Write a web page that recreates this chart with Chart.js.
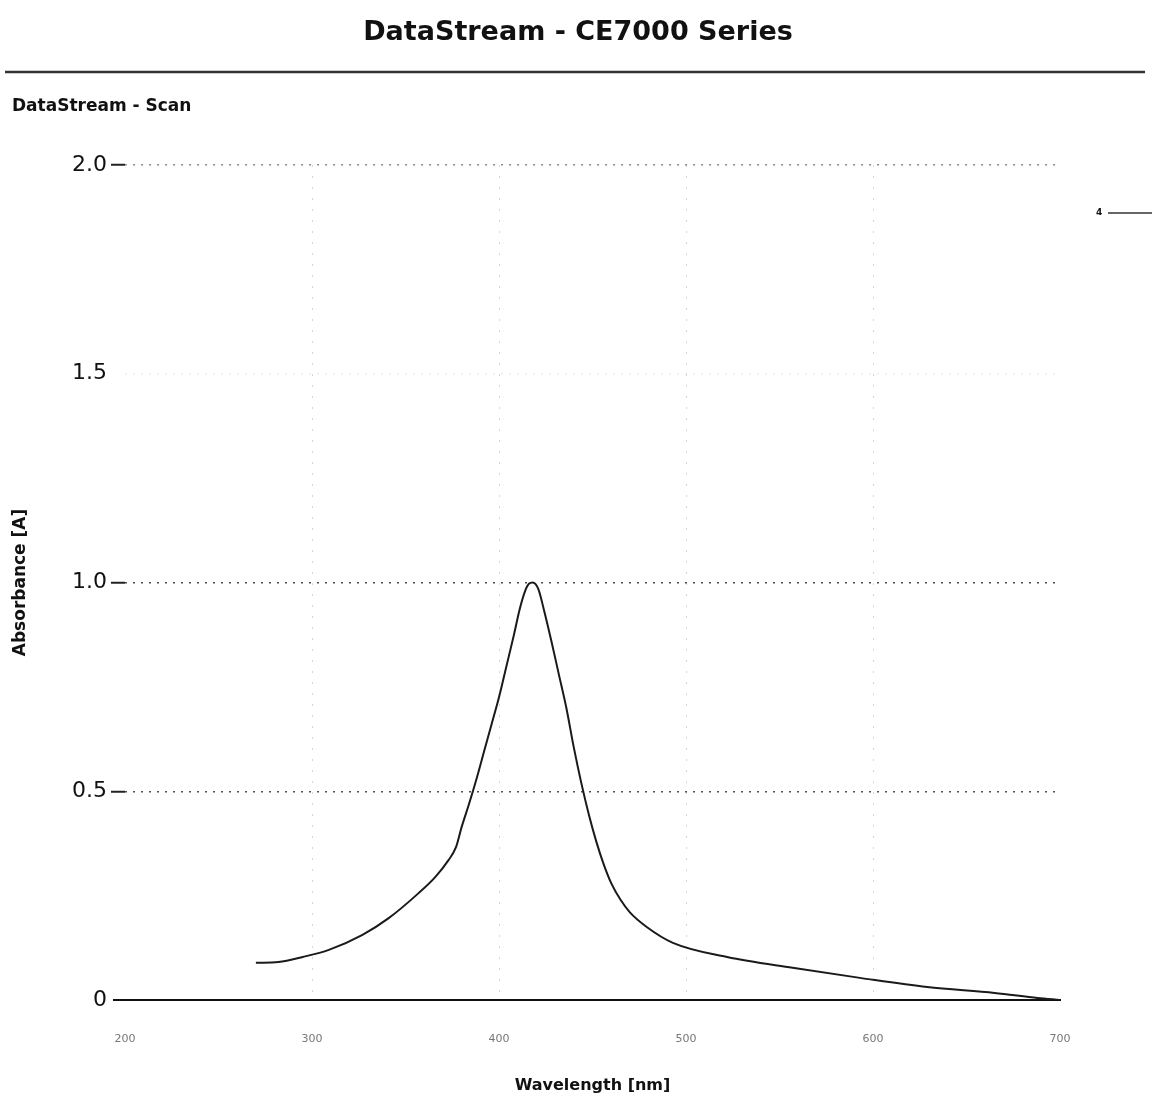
<!DOCTYPE html>
<html>
<head>
<meta charset="utf-8">
<script src="https://cdn.jsdelivr.net/npm/chart.js@4.4.1/dist/chart.umd.min.js"></script>
<style>
  html, body { margin: 0; padding: 0; background: #fff; }
  #wrap { width: 1152px; height: 1099px; position: relative; }
</style>
</head>
<body>
<div id="wrap"><canvas id="scanChart"></canvas></div>
<script>
// values
const wavelengths = [270, 282, 295, 309, 327, 341, 357, 366, 373, 377, 380, 384, 388, 392, 396, 400, 404, 408, 411, 414, 416, 418,
    421, 424, 428, 432, 436, 440, 444, 448, 452, 456, 460, 465, 470, 479, 493, 522, 557, 593, 629, 665, 688, 700];
const absorbance = [0.089, 0.091, 0.103, 0.120, 0.156, 0.196, 0.256, 0.295, 0.335, 0.366, 0.414, 0.470, 0.530, 0.595, 0.660, 0.725, 0.800, 0.875, 0.935, 0.980, 0.997, 1.000,
    0.985, 0.935, 0.860, 0.780, 0.700, 0.605, 0.520, 0.445, 0.380, 0.325, 0.280, 0.240, 0.210, 0.175, 0.137, 0.103, 0.077, 0.053, 0.031, 0.017, 0.005, 0.0];
const xTicks = [200, 300, 400, 500, 600, 700];
const yTicks = [0, 0.5, 1.0, 1.5, 2.0];

const FONT = "'DejaVu Sans', Verdana, sans-serif";

// header text, rule and the stray mark on the right edge
const pageDecor = {
    id: 'pageDecor',
    afterDraw(chart) {
        const c = chart.ctx;
        c.save();
        c.fillStyle = '#111';
        c.textBaseline = 'middle';
        c.textAlign = 'center';
        c.font = 'bold 27px ' + FONT;
        c.fillText('DataStream - CE7000 Series', 578, 33);

        c.strokeStyle = '#333';
        c.lineWidth = 2.5;
        c.beginPath();
        c.moveTo(5, 72);
        c.lineTo(1145, 72);
        c.stroke();

        c.textAlign = 'left';
        c.font = 'bold 17px ' + FONT;
        c.fillText('DataStream - Scan', 12, 107);

        c.font = 'bold 9px ' + FONT;
        c.fillText('4', 1096, 213);
        c.lineWidth = 1.5;
        c.beginPath();
        c.moveTo(1108, 213);
        c.lineTo(1152, 213);
        c.stroke();

        // zero line runs a little left of the plot
        c.strokeStyle = '#111';
        c.lineWidth = 2;
        c.beginPath();
        c.moveTo(113, chart.scales.y.getPixelForValue(0));
        c.lineTo(chart.chartArea.left, chart.scales.y.getPixelForValue(0));
        c.stroke();
        c.restore();
    }
};

const ctx = document.getElementById('scanChart').getContext('2d');

new Chart(ctx, {
    type: 'line',
    data: {
        datasets: [{
            label: 'Scan',
            data: wavelengths.map((w, i) => ({ x: w, y: absorbance[i] })),
            borderColor: '#1a1a1a',
            borderWidth: 2,
            pointRadius: 0,
            fill: false,
            cubicInterpolationMode: 'monotone'
        }]
    },
    options: {
        responsive: true,
        maintainAspectRatio: false,
        animation: false,
        layout: { padding: { top: 165, right: 92, left: 0, bottom: 0 } },
        plugins: {
            legend: { display: false },
            tooltip: { enabled: false }
        },
        scales: {
            x: {
                type: 'linear',
                min: 200,
                max: 700,
                afterFit: (s) => { s.height = 99; },
                afterBuildTicks: (s) => { s.ticks = xTicks.map(v => ({ value: v })); },
                ticks: {
                    padding: 33,
                    color: '#777',
                    font: { family: FONT, size: 11 }
                },
                grid: {
                    drawTicks: false,
                    lineWidth: 1,
                    color: (c) => (c.tick && (c.tick.value === 200 || c.tick.value === 700)) ? 'rgba(0,0,0,0)' : 'rgba(0,0,0,0.16)'
                },
                border: { display: true, color: '#111', width: 2, dash: [2, 9] },
                title: {
                    display: true,
                    text: 'Wavelength [nm]',
                    color: '#111',
                    font: { family: FONT, size: 16, weight: 'bold' },
                    padding: { top: 0, bottom: 4 }
                }
            },
            y: {
                min: 0,
                max: 2,
                afterFit: (s) => { s.width = 125; },
                afterBuildTicks: (s) => { s.ticks = yTicks.map(v => ({ value: v })); },
                ticks: {
                    padding: 4,
                    color: '#111',
                    font: { family: FONT, size: 22 },
                    callback: (v) => v === 0 ? '0' : v.toFixed(1)
                },
                grid: {
                    tickLength: 14,
                    tickWidth: 2,
                    lineWidth: 1.5,
                    color: (c) => {
                        const v = c.tick ? c.tick.value : null;
                        if (v === 0) return 'rgba(0,0,0,0)';
                        if (v === 1.5) return 'rgba(0,0,0,0.07)';
                        if (v === 2) return 'rgba(0,0,0,0.45)';
                        return 'rgba(0,0,0,0.7)';
                    },
                    tickColor: (c) => (c.tick && (c.tick.value === 0 || c.tick.value === 1.5)) ? 'rgba(0,0,0,0)' : '#222'
                },
                border: { display: false, dash: [2, 6] },
                title: {
                    display: true,
                    text: 'Absorbance [A]',
                    color: '#111',
                    font: { family: FONT, size: 17, weight: 'bold' },
                    padding: { top: 10, bottom: 0 }
                }
            }
        }
    },
    plugins: [pageDecor]
});
</script>
</body>
</html>
